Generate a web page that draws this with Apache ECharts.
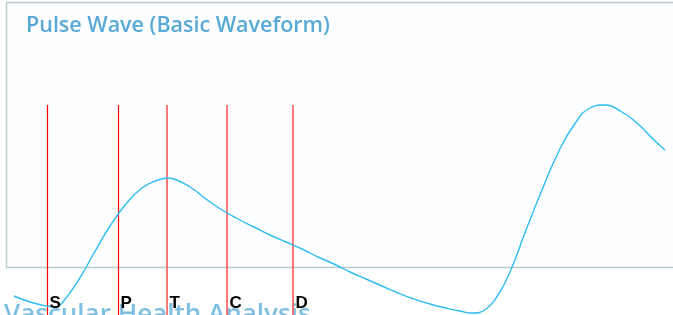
<!DOCTYPE html>
<html>
<head>
<meta charset="utf-8">
<script src="https://cdn.jsdelivr.net/npm/echarts@6/dist/echarts.min.js"></script>
<style>
html,body{margin:0;padding:0;background:#fff;}
#c{width:673px;height:315px;}
</style>
</head>
<body>
<div id="c"></div>
<script>
// Pulse waveform samples (time units, amplitude units)
var times = [14,30,46,56,62,78,94,110,126,142,158,168,174,190,206,222,238,254,270,286,302,318,334,350,366,382,398,414,430,446,460,472,486,498,510,526,542,558,574,590,604,622,638,654,665];
var amplitude = [19,13,9,8,12,34,62,89,111,127,135,137,136,128,116,105,96,88,80,73,66,58,51,43,36,29,22,16,11,7,4,2,6,20,43,85,125,162,190,207,210,203,191,175,165];
// Characteristic point markers
var markerNames = ['S','P','T','C','D'];
var markerTimes = [47,118,167,227,293];
var markerTop = 210;
var labelLevel = 12;
var title = 'Pulse Wave (Basic Waveform)';
var subtitle = 'Vascular Health Analysis';

var chart = echarts.init(document.getElementById('c'), null, {renderer:'canvas'});
var lineData = times.map(function(t,i){return [t, amplitude[i]];});
var markLines = markerTimes.map(function(t,i){
  return [{coord:[t, markerTop], lineStyle:{color: i<2 ? '#ff0000' : '#ff5555', width: i<2 ? 1.2 : 1.6}},{coord:[t, 0]}];
});
var labelData = markerTimes.map(function(t,i){return {value:[t, labelLevel], name: markerNames[i]};});

chart.setOption({
  animation:false,
  backgroundColor:'#ffffff',
  graphic:[
    {type:'rect', z:-10, shape:{x:6.5,y:2.5,width:700,height:265}, style:{fill:'#fdfeff', stroke:'#b7cccc', lineWidth:1.5}},
    {type:'text', z:-5, x:26, y:15, style:{text:title, font:'600 21.5px "Open Sans"', fill:'#58a9d6'}},
    {type:'text', z:-5, x:4, y:302, style:{text:subtitle, font:'600 26px "Open Sans"', fill:'#7fc0e2'}}
  ],
  grid:{left:0,right:0,top:0,bottom:0},
  xAxis:{type:'value', min:0, max:673, show:false},
  yAxis:{type:'value', min:0, max:315, show:false},
  series:[
    {type:'line', data:lineData, smooth:0.5, showSymbol:false, z:5, clip:false,
     lineStyle:{color:'#2ebcf5', width:1.4},
     markLine:{silent:true, symbol:['none','none'], label:{show:false}, animation:false,
       lineStyle:{type:'solid', width:1.2, color:'#ff0000'}, data:markLines}},
    {type:'scatter', data:labelData, symbol:'circle', symbolSize:1, z:20, itemStyle:{color:'rgba(0,0,0,0)'},
     label:{show:true, position:'right', distance:2, formatter:'{b}', opacity:1,
       color:'#000000', fontWeight:'bold', fontSize:17, fontFamily:'Liberation Sans'}}
  ]
});
</script>
</body>
</html>
